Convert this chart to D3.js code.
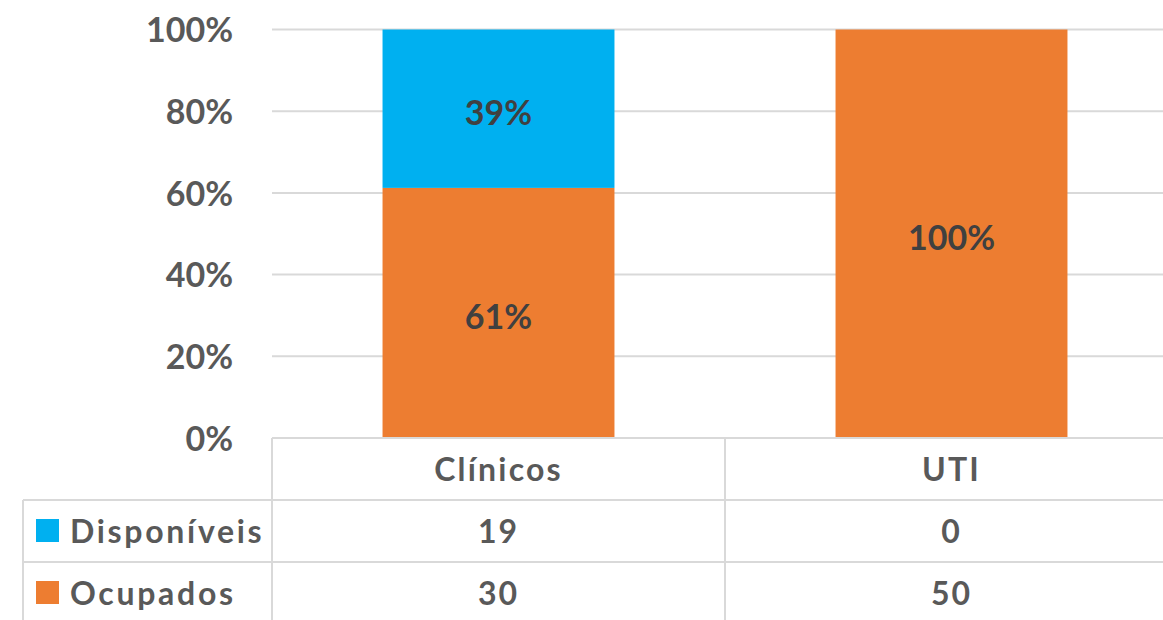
<!DOCTYPE html>
<html>
<head>
<meta charset="utf-8">
<script src="https://cdn.jsdelivr.net/npm/d3@7"></script>
<style>
  body { margin: 0; background: #fff; }
  text { font-family: Lato, "Open Sans", sans-serif; font-weight: bold; }
</style>
</head>
<body>
<div id="chart"></div>
<script>
// data
const categories = ["Clínicos", "UTI"];
const seriesNames = ["Disponíveis", "Ocupados"];
const disponiveis = [19, 0];
const ocupados = [30, 50];
const yTicks = [0, 0.2, 0.4, 0.6, 0.8, 1];
const colors = { "Disponíveis": "#00B0F0", "Ocupados": "#ED7D31" };

const width = 1163, height = 620;
const plotLeft = 272, plotRight = 1178, plotTop = 29.5, plotBottom = 438;
const rowH = 62;

const svg = d3.select("#chart").append("svg")
    .attr("width", width)
    .attr("height", height);

const rows = categories.map((c, i) => ({ cat: c, "Disponíveis": disponiveis[i], "Ocupados": ocupados[i] }));

const x = d3.scaleBand().domain(categories).range([plotLeft, plotRight]).paddingInner(0.488).paddingOuter(0.244);
const xCol = d3.scaleBand().domain(categories).range([plotLeft, plotRight]);
const y = d3.scaleLinear().domain([0, 1]).range([plotBottom, plotTop]);

// gridlines
svg.append("g").selectAll("line")
  .data(yTicks.filter(t => t > 0))
  .join("line")
    .attr("x1", plotLeft).attr("x2", width)
    .attr("y1", d => y(d)).attr("y2", d => y(d))
    .attr("stroke", "#D9D9D9").attr("stroke-width", 2);

// y axis labels
const yAxis = d3.axisLeft(y).tickValues(yTicks).tickFormat(d3.format(".0%")).tickSize(0).tickPadding(0);
const ya = svg.append("g").attr("transform", "translate(233,0)").call(yAxis);
ya.select(".domain").remove();
ya.selectAll("text")
    .attr("fill", "#595959")
    .style("font-size", "34px")
    .attr("dy", "0.36em");

// stacked bars (Ocupados bottom, Disponíveis top)
const stack = d3.stack().keys(["Ocupados", "Disponíveis"]).offset(d3.stackOffsetExpand);
const stacked = stack(rows);

svg.append("g").selectAll("g")
  .data(stacked)
  .join("g")
    .attr("fill", d => colors[d.key])
  .selectAll("rect")
  .data(d => d.map(p => ({ p, key: d.key })))
  .join("rect")
    .attr("x", d => x(d.p.data.cat))
    .attr("y", d => y(d.p[1]))
    .attr("width", x.bandwidth())
    .attr("height", d => y(d.p[0]) - y(d.p[1]));

// bar labels
const fmt = d3.format(".0%");
svg.append("g").selectAll("g")
  .data(stacked)
  .join("g")
  .selectAll("text")
  .data(d => d.filter(p => p[1] - p[0] > 0))
  .join("text")
    .attr("x", p => x(p.data.cat) + x.bandwidth() / 2)
    .attr("y", p => y((p[0] + p[1]) / 2))
    .attr("dy", "0.48em")
    .attr("text-anchor", "middle")
    .attr("fill", "#404040")
    .style("font-size", "34px")
    .text(p => fmt(p[1] - p[0]));

// data table
const grid = svg.append("g").attr("stroke", "#D9D9D9").attr("stroke-width", 2);
grid.append("line").attr("x1", plotLeft).attr("x2", width).attr("y1", plotBottom).attr("y2", plotBottom);
[1, 2, 3].forEach(r => {
  grid.append("line").attr("x1", 23).attr("x2", width)
    .attr("y1", plotBottom + rowH * r).attr("y2", plotBottom + rowH * r);
});
grid.selectAll(".vcol")
  .data(categories.concat(["end"]))
  .join("line")
    .attr("x1", (d, i) => plotLeft + xCol.bandwidth() * i)
    .attr("x2", (d, i) => plotLeft + xCol.bandwidth() * i)
    .attr("y1", plotBottom).attr("y2", height);
grid.append("line").attr("x1", 23).attr("x2", 23).attr("y1", plotBottom + rowH).attr("y2", height);

// header
svg.append("g").selectAll("text")
  .data(categories)
  .join("text")
    .attr("x", d => xCol(d) + xCol.bandwidth() / 2)
    .attr("y", plotBottom + rowH / 2)
    .attr("dy", "0.36em")
    .attr("text-anchor", "middle")
    .attr("fill", "#595959")
    .style("font-size", "32px")
    .style("letter-spacing", "2.2px")
    .text(d => d);

// rows
const tableRows = [
  { name: "Disponíveis", vals: disponiveis },
  { name: "Ocupados", vals: ocupados }
];
tableRows.forEach((r, i) => {
  const cy = plotBottom + rowH * (i + 1) + rowH / 2;
  svg.append("rect")
    .attr("x", 36).attr("y", cy - 12)
    .attr("width", 23).attr("height", 23)
    .attr("fill", colors[r.name]);
  svg.append("text")
    .attr("x", 70).attr("y", cy)
    .attr("dy", "0.36em")
    .attr("fill", "#595959")
    .style("font-size", "32px")
    .style("letter-spacing", "2.7px")
    .text(r.name);
  svg.append("g").selectAll("text")
    .data(r.vals)
    .join("text")
      .attr("x", (d, j) => xCol(categories[j]) + xCol.bandwidth() / 2)
      .attr("y", cy)
      .attr("dy", "0.36em")
      .attr("text-anchor", "middle")
      .attr("fill", "#595959")
      .style("font-size", "32px")
      .style("letter-spacing", "2px")
      .text(d => d);
});
</script>
</body>
</html>
